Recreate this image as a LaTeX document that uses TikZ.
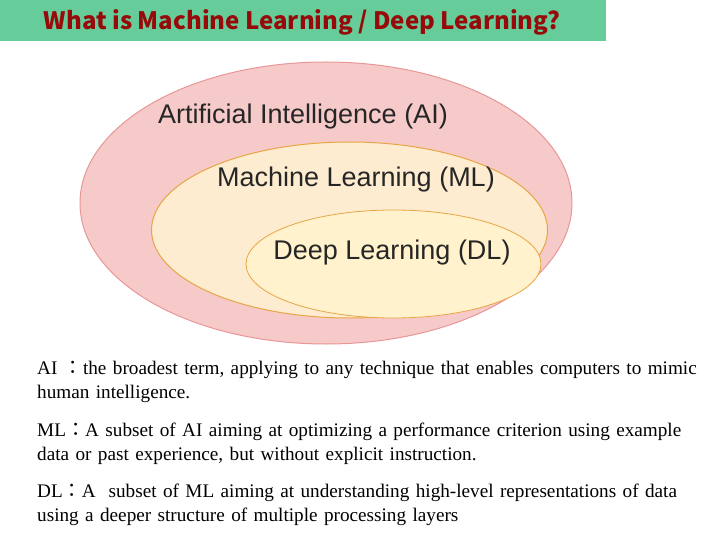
\documentclass[tikz,border=0pt]{standalone}
\usepackage{fontspec}
\setmainfont{Liberation Serif}
\newfontfamily\arial{Liberation Sans}
\newfontfamily\cjk{Noto Sans CJK JP}
\begin{document}
\begin{tikzpicture}[x=1pt,y=-1pt,
  lbl/.style={font=\arial\fontsize{27}{30}\selectfont,text=black!85,inner sep=0},
  para/.style={anchor=north west,align=left,text width=668pt,inner sep=0,font=\fontsize{19.2}{24}\selectfont}]
\useasboundingbox (0,0) rectangle (720,540);
\definecolor{ttl}{RGB}{102,204,153}
\definecolor{ttltext}{RGB}{150,10,10}
\definecolor{aif}{RGB}{247,202,202}
\definecolor{aie}{RGB}{232,150,150}
\definecolor{mlf}{RGB}{253,236,208}
\definecolor{mle}{RGB}{232,165,70}
\definecolor{dlf}{RGB}{255,242,204}
\node[fill=ttl,minimum width=606pt,minimum height=41pt,anchor=north west,inner sep=0] (title) at (0,0) {};
\node[font=\cjk\bfseries\fontsize{24}{26}\selectfont,text=ttltext] (tt) at (302,22) {What is Machine Learning / Deep Learning?};
\draw[fill=aif,draw=aie,line width=1pt] (326,203) ellipse [x radius=246, y radius=141];
\draw[fill=mlf,draw=mle,line width=1pt] (349.5,230) ellipse [x radius=198, y radius=88];
\draw[fill=dlf,draw=mle,line width=0.8pt] (393.5,264) ellipse [x radius=147.5, y radius=54];
\node[lbl] (ai) at (303,117) {Artificial Intelligence (AI)};
\node[lbl] (ml) at (356,180) {Machine Learning (ML)};
\node[lbl] (dl) at (392,253) {Deep Learning (DL)};
\node[para] (p1) at (37,361) {\raggedright AI {\cjk：}the broadest term, applying to any technique that enables computers to mimic human intelligence.};
\node[para] (p2) at (37,423) {\raggedright ML{\cjk：}A subset of AI aiming at optimizing a performance criterion using example data or past experience, but without explicit instruction.};
\node[para] (p3) at (37,484) {\raggedright DL{\cjk：}A \ subset of ML aiming at understanding high-level representations of data using a deeper structure of multiple processing layers};
\end{tikzpicture}
\end{document}
